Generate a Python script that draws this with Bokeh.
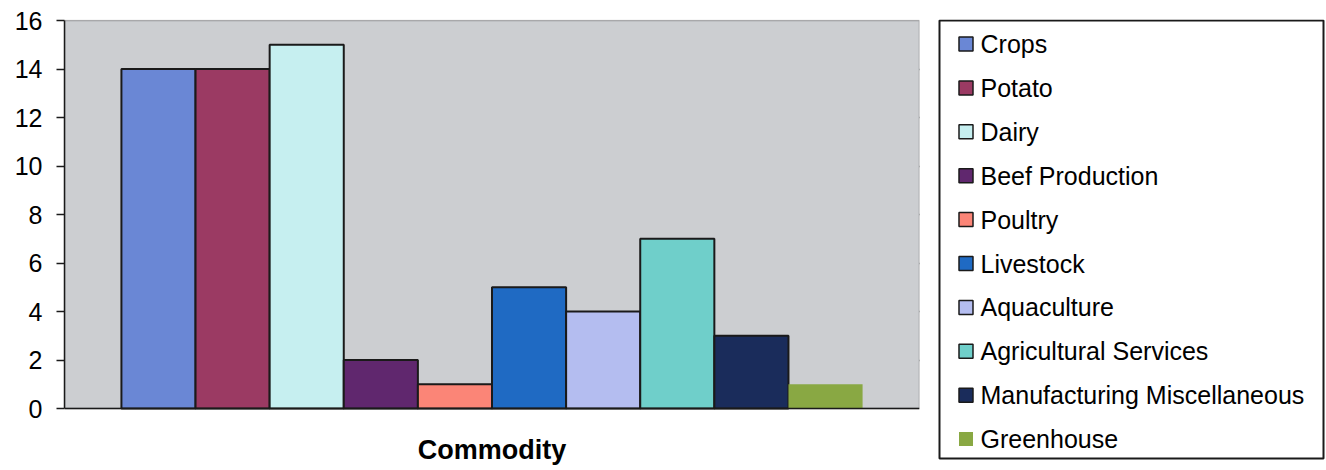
from bokeh.plotting import figure
from bokeh.models import FactorRange, Range1d, ColumnDataSource, BoxAnnotation, Span, Label
from bokeh.layouts import row
from bokeh.embed import file_html
from bokeh.resources import INLINE
from bokeh.core.properties import value

# ---- data ----
categories = ["Crops", "Potato", "Dairy", "Beef Production", "Poultry", "Livestock",
              "Aquaculture", "Agricultural Services", "Manufacturing Miscellaneous", "Greenhouse"]
counts = [14, 14, 15, 2, 1, 5, 4, 7, 3, 1]
y_ticks = [0, 2, 4, 6, 8, 10, 12, 14, 16]
grid_ticks = [2, 4, 6, 8, 10, 12, 14]
x_title = "Commodity"

# ---- styles ----
colors = ["#6a87d5", "#9b3a63", "#c6eff0", "#60276e", "#fb8577", "#1f6ac3",
          "#b4bdf0", "#6fcfca", "#1a2c5b", "#89a843"]
outlines = ["#1a1a1a"] * 9 + [None]
FONT = "Liberation Sans"
INK = "#1a1a1a"

src = ColumnDataSource(dict(cat=categories, val=counts, color=colors, outline=outlines))

# frame spans y 19..470; value 16 at y=20 and 0 at y=408
px_per_unit = 388 / 16
y_bottom = -(470 - 408) / px_per_unit
y_top = 16 + 1 / px_per_unit

p = figure(width=930, height=470, output_backend="svg", toolbar_location=None,
           x_range=FactorRange(*categories, range_padding=0.768, range_padding_units="absolute"),
           y_range=Range1d(y_bottom, y_top), x_axis_location=None,
           min_border_left=64, min_border_right=11, min_border_top=19, min_border_bottom=0)
p.background_fill_color = "white"
p.border_fill_color = "white"
p.outline_line_color = None

# gray plot area with its black border
p.add_layout(BoxAnnotation(bottom=0, top=16, fill_color="#ccced1", fill_alpha=1.0,
                           line_color=INK, line_width=1.5, level="underlay"))

p.xgrid.grid_line_color = None
p.ygrid.grid_line_color = INK
p.ygrid.grid_line_width = 1.5
p.ygrid.ticker = grid_ticks

p.vbar(x="cat", top="val", width=1.0, source=src, fill_color="color",
       line_color="outline", line_width=2)

# category axis line at zero
p.add_layout(Span(location=0, dimension="width", line_color=INK, line_width=1.5))
p.add_layout(Label(x=5.0, y=-1.71, text=x_title, text_font=FONT, text_font_size="27px",
                   text_font_style="bold", text_color="black", text_align="center",
                   text_baseline="middle"))

p.yaxis.ticker = y_ticks
p.yaxis.bounds = (0, 16)
p.yaxis.axis_line_color = INK
p.yaxis.axis_line_width = 1.5
p.yaxis.major_tick_line_color = INK
p.yaxis.major_tick_line_width = 1.5
p.yaxis.major_tick_out = 8
p.yaxis.major_tick_in = 0
p.yaxis.minor_tick_line_color = None
p.yaxis.major_label_text_font = FONT
p.yaxis.major_label_text_font_size = "25px"
p.yaxis.major_label_text_color = "black"
p.yaxis.major_label_standoff = 14

# ---- legend panel (frame covers x 930..1326, y 19..470; x=0 at 939, y=0 at 20) ----
n = len(categories)
row_y = [23.5 + i * 43.9 for i in range(n)]
leg = ColumnDataSource(dict(label=categories, color=colors, outline=outlines,
                            y=row_y, gx=[26.5] * n, tx=[41] * n))
q = figure(width=396, height=470, output_backend="svg", toolbar_location=None,
           x_range=Range1d(-9, 387), y_range=Range1d(450, -1),
           x_axis_location=None, y_axis_location=None,
           min_border_left=0, min_border_right=0, min_border_top=19, min_border_bottom=0)
q.grid.visible = False
q.background_fill_color = "white"
q.border_fill_color = "white"
q.outline_line_color = None
q.quad(left=[0], right=[384], top=[0], bottom=[438], fill_color=None,
       line_color=INK, line_width=2)
q.rect(x="gx", y="y", width=14, height=14, source=leg, fill_color="color",
       line_color="outline", line_width=1.5)
q.text(x="tx", y="y", text="label", source=leg, text_font=value(FONT),
       text_font_size="25px", text_baseline="middle", text_align="left", text_color="black")

layout = row(p, q, spacing=0)
open("out.html", "w").write(file_html(layout, INLINE))
